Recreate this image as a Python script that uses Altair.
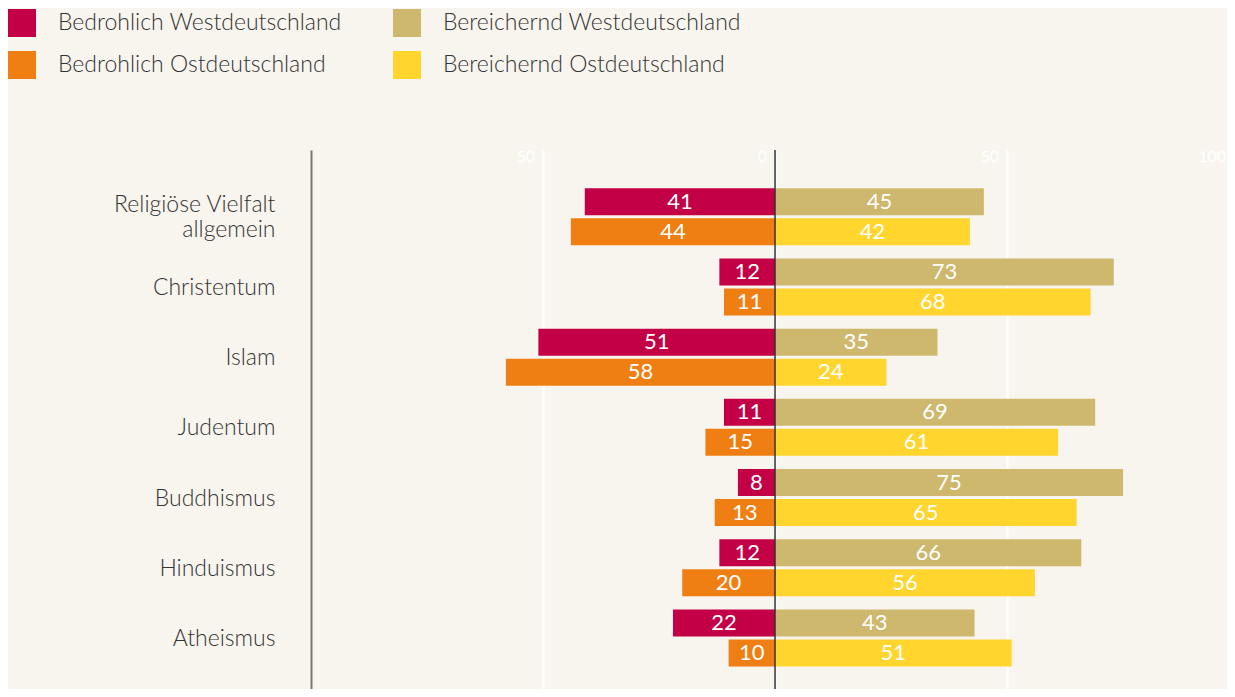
import altair as alt
import pandas as pd

categories = ["Religiöse Vielfalt allgemein", "Christentum", "Islam", "Judentum",
              "Buddhismus", "Hinduismus", "Atheismus"]
bedrohlich_west = [41, 12, 51, 11, 8, 12, 22]
bedrohlich_ost = [44, 11, 58, 15, 13, 20, 10]
bereichernd_west = [45, 73, 35, 69, 75, 66, 43]
bereichernd_ost = [42, 68, 24, 61, 65, 56, 51]

series_names = ["Bedrohlich Westdeutschland", "Bereichernd Westdeutschland",
                "Bedrohlich Ostdeutschland", "Bereichernd Ostdeutschland"]
series_colors = ["#C30045", "#CEB86E", "#F07F13", "#FFD52E"]
tick_values = [-50, 0, 50, 100]

series_spec = [
    ("Bedrohlich Westdeutschland", bedrohlich_west, -1, "West"),
    ("Bedrohlich Ostdeutschland", bedrohlich_ost, -1, "Ost"),
    ("Bereichernd Westdeutschland", bereichernd_west, 1, "West"),
    ("Bereichernd Ostdeutschland", bereichernd_ost, 1, "Ost"),
]
rows = []
for i, c in enumerate(categories):
    for name, vals, sign, region in series_spec:
        v = vals[i]
        rows.append(dict(category=c, series=name, region=region, value=v,
                         pos=sign * v, mid=sign * v / 2))
df = pd.DataFrame(rows)
ticks_df = pd.DataFrame({"tick": tick_values, "label": [str(abs(t)) for t in tick_values]})

LIGHT = "Lato Light, Lato"

xscale = alt.Scale(domain=[-100, 97.4], nice=False, zero=False)
yscale = alt.Scale(domain=categories, paddingInner=0.1885, paddingOuter=0.431, align=0.63)
yoff = alt.YOffset("region:N", scale=alt.Scale(domain=["West", "Ost"], paddingInner=0.1, paddingOuter=0))

label_expr = ("length(datum.value) > 20 ? [slice(datum.value, 0, lastindexof(datum.value, ' ')), "
              "slice(datum.value, lastindexof(datum.value, ' ') + 1)] : datum.value")

base = alt.Chart(df)

bars = base.mark_bar().encode(
    y=alt.Y("category:N", scale=yscale, axis=alt.Axis(
        title=None, ticks=False, grid=False, domainColor="#7a7670", domainWidth=2,
        labelFont=LIGHT, labelFontSize=23, labelFontWeight=300, labelColor="#333333",
        labelPadding=36, labelLineHeight=25, labelExpr=label_expr, labelLimit=400,
        labelOffset={"condition": {"test": "length(datum.value) > 20", "value": -12}, "value": 1})),
    yOffset=yoff,
    x=alt.X("pos:Q", scale=xscale, axis=alt.Axis(
        orient="top", values=tick_values, title=None, domain=False, ticks=False,
        grid=True, gridColor="#ffffff", gridWidth=2, labels=False)),
    x2=alt.datum(0),
    color=alt.Color("series:N", scale=alt.Scale(domain=series_names, range=series_colors),
                    legend=alt.Legend(
                        title=None, orient="none", legendX=-303, legendY=-141, columns=2,
                        direction="horizontal",
                        symbolType="square", symbolSize=784, symbolStrokeWidth=0,
                        symbolOpacity=1, labelFont=LIGHT, labelFontSize=23,
                        labelFontWeight=300, labelColor="#333333", labelOffset=22,
                        columnPadding=51, rowPadding=14, padding=0, labelLimit=500)),
)

labels = base.mark_text(color="#ffffff", font="Lato", fontSize=22, baseline="middle",
                        align="center").encode(
    y=alt.Y("category:N", scale=yscale),
    yOffset=yoff,
    x=alt.X("mid:Q", scale=xscale),
    text=alt.Text("value:Q"),
)

tick_labels = alt.Chart(ticks_df).mark_text(
    color="#ffffff", font="Lato", fontSize=16, align="right", baseline="middle",
    dx=alt.expr("datum.tick >= 100 ? -13 : -8")
).encode(
    x=alt.X("tick:Q", scale=xscale),
    y=alt.value(7),
    text="label:N",
)

zero = alt.Chart(pd.DataFrame({"zero": [0]})).mark_rule(color="#333333", strokeWidth=1.5).encode(
    x=alt.X("zero:Q", scale=xscale)
)

chart = alt.layer(bars, zero, labels, tick_labels).properties(
    width=916, height=539,
    autosize=alt.AutoSizeParams(type="none"),
    padding={"left": 303, "top": 142, "right": 0, "bottom": 0},
    background="#F8F5EE",
).configure_view(stroke=None)

chart.save("out.html", embed_options={"renderer": "svg", "actions": False})
